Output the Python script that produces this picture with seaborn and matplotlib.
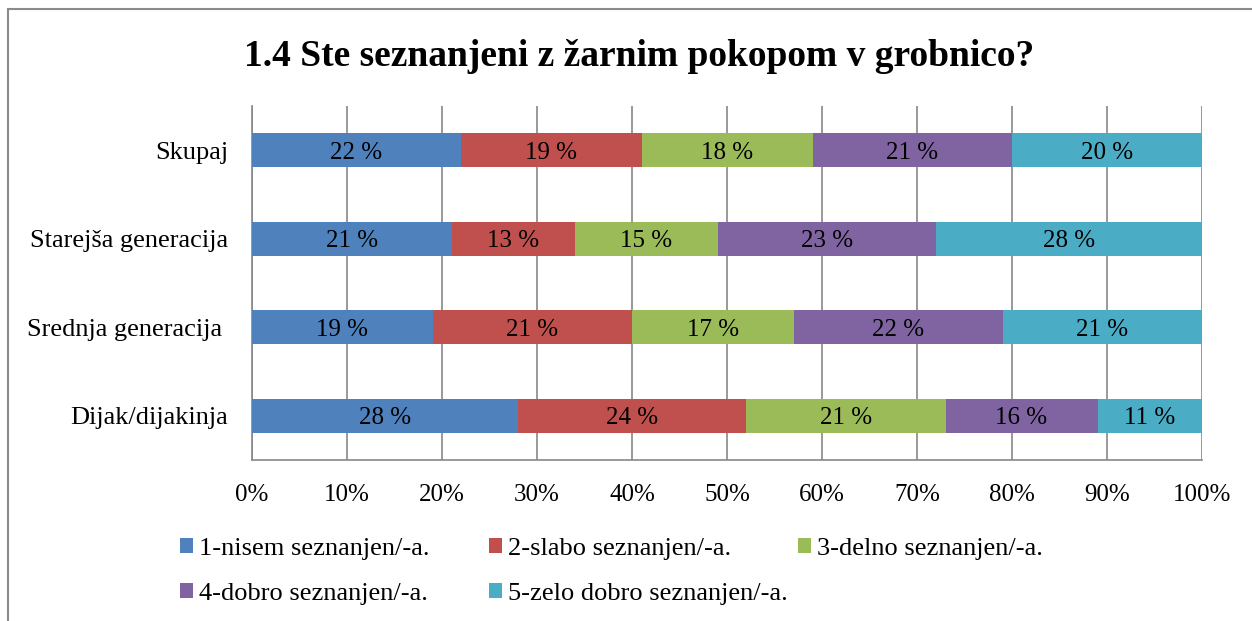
import matplotlib
matplotlib.use("Agg")
import matplotlib.pyplot as plt
from matplotlib.patches import Patch
from matplotlib.lines import Line2D
import seaborn as sns
import numpy as np
import pandas as pd

# podatki
skupine = ['Skupaj', 'Starejša generacija', 'Srednja generacija ', 'Dijak/dijakinja']
odgovori = ['1-nisem seznanjen/-a.', '2-slabo seznanjen/-a.', '3-delno seznanjen/-a.',
            '4-dobro seznanjen/-a.', '5-zelo dobro seznanjen/-a.']
nisem = [22, 21, 19, 28]
slabo = [19, 13, 21, 24]
delno = [18, 15, 17, 21]
dobro = [21, 23, 22, 16]
zelo_dobro = [20, 28, 21, 11]
barve = ['#4F81BD', '#C0504D', '#9BBB59', '#8064A2', '#4BACC6']
x_oznake = [f'{v}%' for v in range(0, 101, 10)]

sns.set_style('white')
plt.rcParams['font.family'] = ['Liberation Serif', 'DejaVu Serif']
plt.rcParams['text.color'] = 'black'
plt.rcParams['xtick.labelcolor'] = 'black'
plt.rcParams['ytick.labelcolor'] = 'black'

df = pd.DataFrame({'skupina': skupine}).set_index('skupina')
for ime, vrednosti in zip(odgovori, [nisem, slabo, delno, dobro, zelo_dobro]):
    df[ime] = vrednosti
kum = df.cumsum(axis=1)

fig = plt.figure(figsize=(12.52, 6.21), dpi=100)
ax = fig.add_axes([252 / 1252, 1 - 460 / 621, 950 / 1252, 354 / 621])

# prekrivajoci stolpci od zadnjega do prvega (zlozeni)
for ime, barva in reversed(list(zip(odgovori, barve))):
    sns.barplot(x=kum[ime].values, y=skupine, color=barva, orient='h',
                width=0.38, ax=ax, saturation=1, linewidth=0, zorder=3)

for i, sk in enumerate(skupine):
    for ime in odgovori:
        v = df.loc[sk, ime]
        c = kum.loc[sk, ime] - v / 2
        ax.text(c, i, f'{v} %', ha='center', va='center_baseline', fontsize=18,
                color='black', zorder=4)

siva = '#878787'
ax.set_xlim(0, 100)
ax.set_ylim(3.5, -0.5)
ax.set_xticks(range(0, 101, 10))
ax.set_xticklabels(x_oznake, fontsize=18)
ax.set_yticks(range(len(skupine)))
ax.set_yticklabels(skupine, fontsize=19)
ax.set_yticks(np.arange(-0.5, 4, 1), minor=True)
ax.tick_params(axis='y', which='major', length=0, pad=17)
ax.tick_params(axis='y', which='minor', length=5, color=siva, width=1.2, direction='out')
ax.tick_params(axis='x', which='major', length=5, color=siva, width=1.2, direction='out', pad=12)
ax.grid(axis='x', color=siva, linewidth=1.2, zorder=0)
ax.set_axisbelow(True)
for s in ['top', 'right']:
    ax.spines[s].set_visible(False)
for s in ['left', 'bottom']:
    ax.spines[s].set_color(siva)
    ax.spines[s].set_linewidth(1.2)
ax.set_xlabel('')
ax.set_ylabel('')

fig.text(639 / 1252, 1 - 57 / 621, '1.4 Ste seznanjeni z žarnim pokopom v grobnico?',
         ha='center', va='center', fontsize=27, fontweight='bold')

# legenda po stolpcih
rocaji = [Patch(facecolor=b, edgecolor='none') for b in barve]
stolpci = [([0, 3], 180), ([1, 4], 489), ([2], 798)]
for idx, xpx in stolpci:
    fig.legend([rocaji[k] for k in idx], [odgovori[k] for k in idx],
               loc='upper left', bbox_to_anchor=(xpx / 1252, 1 - 538 / 621),
               frameon=False, fontsize=19, handlelength=0.5, handleheight=0.5,
               handletextpad=0.23, borderpad=0, borderaxespad=0, labelspacing=0.88)

# okvir
fig.add_artist(Line2D([8 / 1252, 8 / 1252], [0, 1 - 9 / 621], transform=fig.transFigure,
                      color='#8a8a8a', linewidth=1.5))
fig.add_artist(Line2D([8 / 1252, 1], [1 - 9 / 621, 1 - 9 / 621], transform=fig.transFigure,
                      color='#8a8a8a', linewidth=1.5))

fig.savefig('out.png', dpi=100)
